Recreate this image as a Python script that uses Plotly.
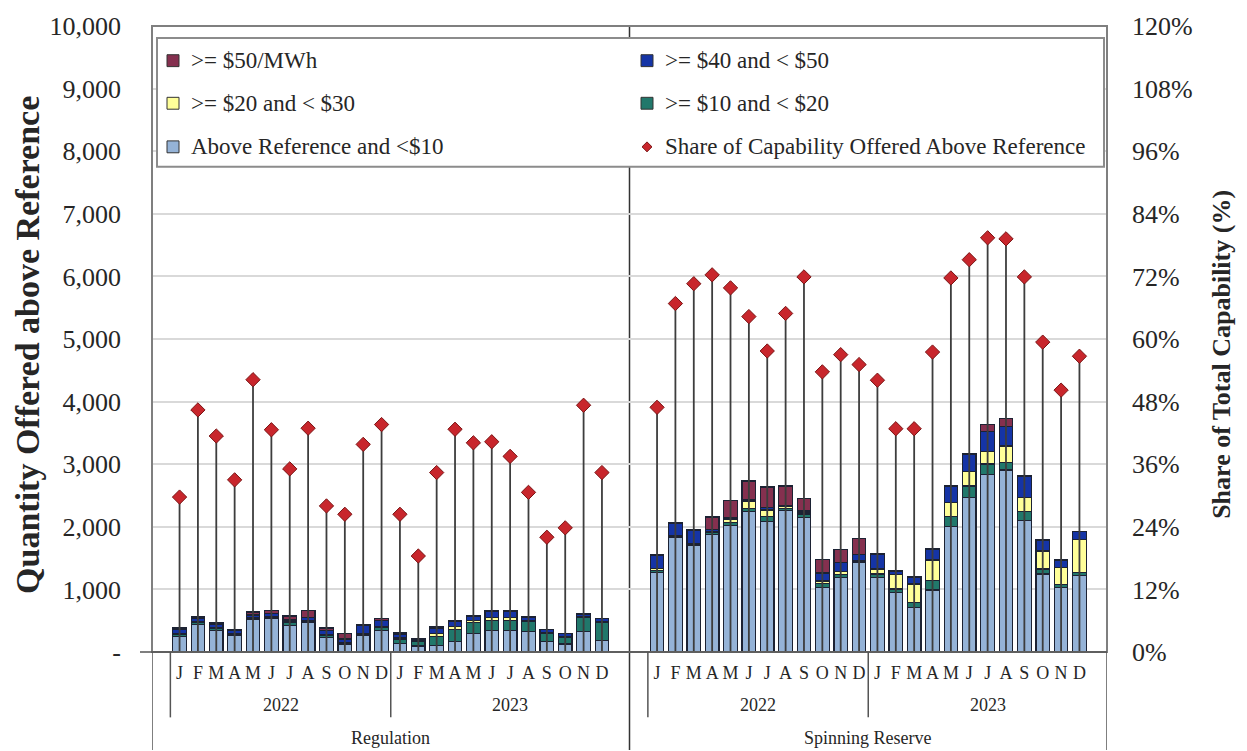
import plotly.graph_objects as go

# ---------------- data ----------------
months = ["J", "F", "M", "A", "M", "J", "J", "A", "S", "O", "N", "D"]
years = ["2022", "2023"]
products = ["Regulation", "Spinning Reserve"]

series_names = [">= $50/MWh", ">= $40 and < $50", ">= $20 and < $30",
                ">= $10 and < $20", "Above Reference and <$10"]
share_name = "Share of Capability Offered Above Reference"

# Regulation (Jan 2022 .. Dec 2023), MW
reg_lt10 = [242, 443, 348, 269, 527, 543, 427, 469, 227, 127, 269, 348,
            137, 95, 100, 174, 295, 348, 348, 322, 164, 127, 322, 179]
reg_10_20 = [35, 25, 25, 15, 15, 15, 40, 20, 40, 20, 20, 45,
             70, 80, 150, 190, 180, 160, 150, 170, 140, 110, 230, 300]
reg_20_30 = [10, 15, 15, 10, 10, 10, 15, 20, 15, 10, 10, 15,
             20, 5, 40, 40, 30, 40, 50, 15, 10, 10, 10, 10]
reg_40_50 = [80, 55, 55, 55, 40, 45, 30, 40, 60, 50, 120, 95,
             60, 25, 80, 80, 60, 100, 100, 45, 45, 43, 45, 40]
reg_ge50 = [18, 21, 21, 15, 46, 46, 63, 116, 43, 88, 19, 30,
            24, 11, 31, 12, 10, 11, 11, 7, 5, 5, 5, 4]
reg_share = [29.7, 46.4, 41.4, 33.0, 52.2, 42.6, 35.1, 42.9, 28.0, 26.4, 39.8, 43.6,
             26.4, 18.4, 34.4, 42.7, 40.1, 40.3, 37.5, 30.6, 22.0, 23.8, 47.3, 34.4]

# Spinning Reserve (Jan 2022 .. Dec 2023), MW
spin_lt10 = [1270, 1835, 1709, 1878, 2025, 2247, 2089, 2258, 2152, 1033, 1192, 1429,
             1192, 955, 717, 990, 2009, 2468, 2837, 2907, 2099, 1245, 1033, 1218]
spin_10_20 = [30, 10, 15, 30, 40, 50, 80, 35, 40, 55, 50, 20,
              55, 50, 80, 150, 150, 185, 165, 120, 150, 80, 50, 50]
spin_20_30 = [40, 10, 10, 10, 60, 115, 100, 30, 30, 45, 40, 10,
              80, 237, 290, 330, 230, 225, 205, 265, 220, 290, 264, 528]
spin_40_50 = [200, 200, 215, 40, 25, 20, 40, 20, 30, 130, 150, 100,
              235, 45, 106, 175, 255, 282, 316, 316, 333, 173, 114, 124]
spin_ge50 = [11, 7, 8, 199, 276, 300, 328, 310, 206, 219, 209, 256,
             15, 10, 10, 11, 9, 10, 105, 126, 10, 10, 10, 10]
spin_share = [46.9, 66.8, 70.6, 72.3, 69.8, 64.3, 57.7, 64.9, 71.9, 53.7, 57.0, 55.1,
              52.1, 42.8, 42.8, 57.5, 71.7, 75.2, 79.4, 79.2, 71.9, 59.4, 50.2, 56.7]

y_ticks = list(range(0, 10001, 1000))
y2_ticks = list(range(0, 121, 12))

# ---------------- styling ----------------
FONT = "Liberation Serif"
TXT = "#262626"
colors = {
    "lt10": "#95B3D7",
    "10_20": "#21786B",
    "20_30": "#FFFF99",
    "40_50": "#1534A6",
    "ge50": "#85304F",
}
DIAMOND = "#C8262C"

W, H = 1247, 751
L, R, T, B = 152, 140, 20, 99
PW, PH = W - L - R, H - T - B


def px(xp):
    return (xp - L) / PW


def py(yp):
    return (H - B - yp) / PH


# category slots: 0 blank, 1-24 regulation months, 25-26 blank, 27-50 spinning months, 51 blank
x_reg = list(range(1, 25))
x_spin = list(range(27, 51))
xs = x_reg + x_spin

stack = [
    ("lt10", series_names[4], reg_lt10 + spin_lt10),
    ("10_20", series_names[3], reg_10_20 + spin_10_20),
    ("20_30", series_names[2], reg_20_30 + spin_20_30),
    ("40_50", series_names[1], reg_40_50 + spin_40_50),
    ("ge50", series_names[0], reg_ge50 + spin_ge50),
]

fig = go.Figure()
for key, name, vals in stack:
    fig.add_trace(go.Bar(
        x=xs, y=vals, name=name, width=0.74,
        marker=dict(color=colors[key], line=dict(color="#1c2233", width=1.2)),
        showlegend=False,
    ))

shares = reg_share + spin_share
line_x, line_y = [], []
for x, s in zip(xs, shares):
    line_x += [x, x, None]
    line_y += [0, s, None]
fig.add_trace(go.Scatter(x=line_x, y=line_y, yaxis="y2", mode="lines",
                         line=dict(color="#3d3d3d", width=1.8),
                         showlegend=False, hoverinfo="skip"))
fig.add_trace(go.Scatter(x=xs, y=shares, yaxis="y2", mode="markers", name=share_name,
                         marker=dict(symbol="diamond", size=11, color=DIAMOND,
                                     line=dict(color="#7a1515", width=1)),
                         showlegend=False))

fig.update_layout(
    width=W, height=H,
    margin=dict(l=L, r=R, t=T, b=B),
    barmode="stack",
    plot_bgcolor="white", paper_bgcolor="white",
    font=dict(family=FONT, color=TXT),
    showlegend=False,
    xaxis=dict(range=[-0.5, 51.5], tickvals=xs, ticktext=months * 4,
               tickfont=dict(size=18, family=FONT, color=TXT),
               ticks="", showgrid=False, zeroline=False, showline=False,
               ticklabelstandoff=8),
    yaxis=dict(range=[0, 10000], tickvals=y_ticks,
               ticktext=["-"] + [f"{v:,}" for v in y_ticks[1:]],
               tickfont=dict(size=26, family=FONT, color=TXT),
               showgrid=True, gridcolor="#d9d9d9", gridwidth=1.5,
               zeroline=False, showline=False, ticks="", ticklabelstandoff=30),
    yaxis2=dict(range=[0, 120], tickvals=y2_ticks, ticktext=[f"{v}%" for v in y2_ticks],
                overlaying="y", side="right",
                tickfont=dict(size=26, family=FONT, color=TXT),
                showgrid=False, zeroline=False, showline=False, ticks="",
                ticklabelstandoff=24),
)

shapes = []
# plot frame
shapes.append(dict(type="rect", xref="paper", yref="paper", x0=0, x1=1, y0=0, y1=1,
                   line=dict(color="#7f7f7f", width=2), layer="above"))
# baseline
shapes.append(dict(type="line", xref="paper", yref="paper", x0=px(140), x1=1, y0=0, y1=0,
                   line=dict(color="#555555", width=1.5), layer="above"))
# panel divider
shapes.append(dict(type="line", xref="x", yref="paper", x0=25.5, x1=25.5, y0=py(H), y1=1,
                   line=dict(color="#333333", width=1.5), layer="below"))
# outer verticals below the plot
for xv in (-0.5, 51.5):
    shapes.append(dict(type="line", xref="x", yref="paper", x0=xv, x1=xv, y0=py(H), y1=0,
                       line=dict(color="#555555", width=1.5)))
# year group separators
for xv in (0.5, 12.5, 26.5, 38.5):
    shapes.append(dict(type="line", xref="x", yref="paper", x0=xv, x1=xv, y0=py(718), y1=0,
                       line=dict(color="#555555", width=1.5)))

# legend box
shapes.append(dict(type="rect", xref="paper", yref="paper", x0=px(157), x1=px(1104),
                   y0=py(162), y1=py(32), fillcolor="white",
                   line=dict(color="#8c8c8c", width=2), layer="above"))

annotations = []
leg_rows = [55, 98, 142]
leg_cols = [(173, 189), (647, 663)]
legend_entries = [
    ("sq", colors["ge50"], series_names[0]),
    ("sq", colors["40_50"], series_names[1]),
    ("sq", colors["20_30"], series_names[2]),
    ("sq", colors["10_20"], series_names[3]),
    ("sq", colors["lt10"], series_names[4]),
    ("dia", DIAMOND, share_name),
]
for k, (kind, col, label) in enumerate(legend_entries):
    ry = leg_rows[k // 2]
    cx, tx = leg_cols[k % 2]
    if kind == "sq":
        shapes.append(dict(type="rect", xref="paper", yref="paper",
                           x0=px(cx - 6), x1=px(cx + 6), y0=py(ry + 6), y1=py(ry - 6),
                           fillcolor=col, line=dict(color="#333333", width=1), layer="above"))
    else:
        d = 5
        path = (f"M {px(cx)} {py(ry - d)} L {px(cx + d)} {py(ry)} "
                f"L {px(cx)} {py(ry + d)} L {px(cx - d)} {py(ry)} Z")
        shapes.append(dict(type="path", xref="paper", yref="paper", path=path,
                           fillcolor=col, line=dict(color="#7a1515", width=1), layer="above"))
    annotations.append(dict(xref="paper", yref="paper", x=px(tx), y=py(ry), text=label,
                            showarrow=False, xanchor="left", yanchor="middle",
                            font=dict(size=23, family=FONT, color=TXT)))

# year labels
for xc, lab in zip([6.5, 19, 32.5, 45], years * 2):
    annotations.append(dict(xref="x", yref="paper", x=xc, y=py(706), text=lab,
                            showarrow=False, xanchor="center", yanchor="middle",
                            font=dict(size=18, family=FONT, color=TXT)))
# product labels
for xc, lab in zip([12.5, 38.5], products):
    annotations.append(dict(xref="x", yref="paper", x=xc, y=py(739), text=lab,
                            showarrow=False, xanchor="center", yanchor="middle",
                            font=dict(size=18, family=FONT, color=TXT)))
# axis titles
annotations.append(dict(xref="paper", yref="paper", x=px(28), y=py(342),
                        text="<b>Quantity Offered above Reference</b>", textangle=-90,
                        showarrow=False, xanchor="center", yanchor="middle",
                        font=dict(size=34, family=FONT, color=TXT)))
annotations.append(dict(xref="paper", yref="paper", x=px(1222), y=py(352),
                        text="<b>Share of Total Capability (%)</b>", textangle=-90,
                        showarrow=False, xanchor="center", yanchor="middle",
                        font=dict(size=26, family=FONT, color=TXT)))

fig.update_layout(shapes=shapes, annotations=annotations)

fig.write_html("out.html", config={"displayModeBar": False},
               post_script="document.body.style.margin='0';")
